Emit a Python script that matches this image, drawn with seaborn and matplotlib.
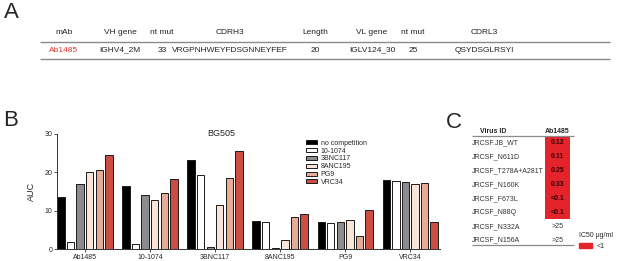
import matplotlib
matplotlib.use("Agg")
import matplotlib.pyplot as plt
import seaborn as sns
import pandas as pd
from matplotlib.patches import Patch

# panel A: antibody sequence table
a_headers = ['mAb', 'VH gene', 'nt mut', 'CDRH3', 'Length', 'VL gene', 'nt mut', 'CDRL3']
a_row = ['Ab1485', 'IGHV4_2M', '33', 'VRGPNHWEYFDSGNNEYFEF', '20', 'IGLV124_30', '25', 'QSYDSGLRSYI']

# panel B: AUC for BG505, one list per competitor
groups = ['Ab1485', '10-1074', '3BNC117', '8ANC195', 'PG9', 'VRC34']
competitors = ['no competition', '10-1074', '3BNC117', '8ANC195', 'PG9', 'VRC34']
auc_no_comp = [13.5, 16.4, 23.2, 7.4, 7.0, 18.0]
auc_10_1074 = [1.7, 1.3, 19.4, 7.0, 6.7, 17.7]
auc_3bnc117 = [16.9, 14.0, 0.5, 0.3, 7.0, 17.4]
auc_8anc195 = [20.2, 12.9, 11.5, 2.4, 7.5, 17.0]
auc_pg9 = [20.5, 14.6, 18.5, 8.3, 3.3, 17.2]
auc_vrc34 = [24.5, 18.2, 25.6, 9.1, 10.3, 7.0]
bar_colors = ['#000000', '#ffffff', '#8c8c8c', '#fde2d4', '#f4a48a', '#e5392b']

# panel C: IC50 of Ab1485 against JRCSF mutants
virus_ids = ['JRCSF.JB_WT', 'JRCSF_N611D', 'JRCSF_T278A+A281T', 'JRCSF_N160K',
             'JRCSF_F673L', 'JRCSF_N88Q', 'JRCSF_N332A', 'JRCSF_N156A']
ic50_text = ['0.12', '0.11', '0.25', '0.33', '<0.1', '<0.1', '>25', '>25']
ic50_below1 = [True, True, True, True, True, True, False, False]

sns.set_style('ticks')
plt.rcParams['font.family'] = ['Liberation Sans', 'DejaVu Sans']

W, H = 617, 261
fig = plt.figure(figsize=(W / 100, H / 100), dpi=100)

def px_axes(x0, y0, x1, y1):
    return fig.add_axes([x0 / W, 1 - y1 / H, (x1 - x0) / W, (y1 - y0) / H])

# overlay in pixel coords for letters and table A
ov = fig.add_axes([0, 0, 1, 1])
ov.set_xlim(0, W)
ov.set_ylim(H, 0)
ov.axis('off')
for letter, x, y in [('A', 11, 13), ('B', 11, 121), ('C', 454, 123)]:
    ov.text(x, y, letter, fontsize=16, ha='center', va='center')

col_x = [64, 120, 162, 230, 315, 372, 413, 484]
for cx, hd, val in zip(col_x, a_headers, a_row):
    ov.text(cx, 33, hd, fontsize=6, ha='center', va='center', color='#222222')
    ov.text(cx, 50, val, fontsize=6, ha='center', va='center',
            color='#e8302a' if val == 'Ab1485' else '#222222')
ov.hlines([42, 59], 40, 610, color='#8a8a8a', lw=1.0)

# panel B
df = pd.DataFrame({
    'group': groups * len(competitors),
    'competitor': [c for c in competitors for _ in groups],
    'AUC': auc_no_comp + auc_10_1074 + auc_3bnc117 + auc_8anc195 + auc_pg9 + auc_vrc34,
})
axB = px_axes(57, 134, 440, 249)
sns.barplot(data=df, x='group', y='AUC', hue='competitor', hue_order=competitors,
            palette=bar_colors, edgecolor='#1a1a1a', linewidth=0.7,
            width=0.88, gap=0.22, ax=axB)
axB.set_xlim(-0.43, 5.46)
axB.set_ylim(0, 30)
axB.set_yticks([0, 10, 20, 30])
axB.set_xlabel('')
axB.set_ylabel('AUC', fontsize=6.5, labelpad=6)
axB.tick_params(labelsize=5, length=2, width=0.6, color='#333333', pad=1.5)
sns.despine(ax=axB)
for s in ['left', 'bottom']:
    axB.spines[s].set_linewidth(0.7)
    axB.spines[s].set_color('#333333')
axB.text(0.43, 1.0, 'BG505', transform=axB.transAxes, fontsize=6.5,
         ha='center', va='center')
handles, labels = axB.get_legend_handles_labels()
axB.legend(handles, labels, loc='upper left', bbox_to_anchor=(0.64, 0.98),
           frameon=False, fontsize=5, handlelength=1.6, handleheight=0.5,
           labelspacing=0.12, handletextpad=0.6, borderpad=0)

# panel C
axC = px_axes(470, 122.15, 576, 248.6)
axC.set_xlim(0, 106)
axC.set_ylim(7.6, -1.5)
axC.axis('off')
rows = list(range(len(virus_ids)))
red_rows = [r for r, b in zip(rows, ic50_below1) if b]
axC.barh(red_rows, 25, left=75, height=1.0, color='#e5232a', linewidth=0)
axC.text(23, -0.85, 'Virus ID', fontsize=5, fontweight='bold', ha='center', va='center')
axC.text(87.5, -0.85, 'Ab1485', fontsize=5, fontweight='bold', ha='center', va='center')
for r, vid, txt, b in zip(rows, virus_ids, ic50_text, ic50_below1):
    axC.text(2, r, vid, fontsize=5, ha='left', va='center', color='#333333')
    axC.text(87.5, r, txt, fontsize=5, ha='center', va='center',
             color='#3a0000' if b else '#333333', fontweight='bold' if b else 'normal')
axC.hlines([-0.5, 7.35], 2, 104, color='#8a8a8a', lw=0.9)

fig.legend(handles=[Patch(color='#e5232a', label='<1')], title='IC50 μg/ml',
           loc='upper left', bbox_to_anchor=(576 / W, 1 - 229 / H), frameon=False,
           fontsize=5, title_fontsize=5, handlelength=1.8, handleheight=0.6,
           handletextpad=0.6, borderpad=0, alignment='left')

fig.savefig('out.png', dpi=100)
